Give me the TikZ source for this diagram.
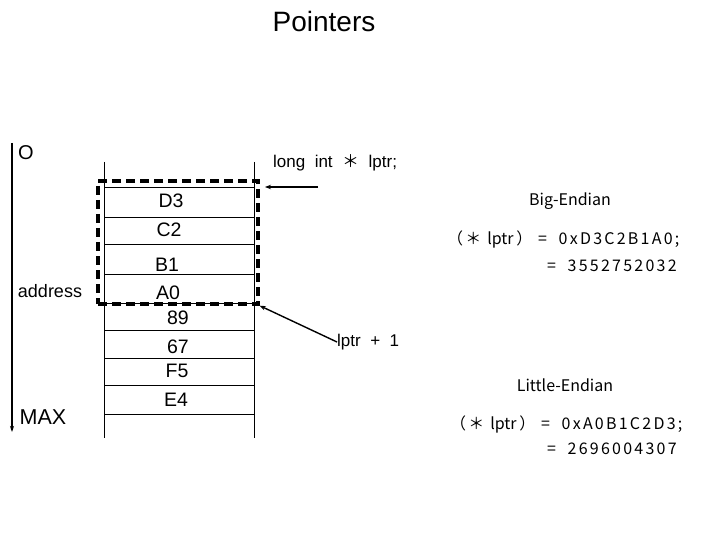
\documentclass[tikz,border=0pt]{standalone}
\usepackage{fontspec}
\setmainfont{Liberation Sans}
\newfontfamily\cjk{Noto Sans CJK KR}
\newfontfamily\kfont[LetterSpace=14]{Noto Sans CJK KR}
\usetikzlibrary{arrows.meta}
\begin{document}
\begin{tikzpicture}[x=1pt,y=-1pt,
  lbl/.style={inner sep=0pt, font=\fontsize{18}{20}\selectfont},
  clbl/.style={inner sep=0pt, font=\fontsize{19.5}{21}\selectfont},
  klbl/.style={inner sep=0pt, font=\kfont\fontsize{16}{18}\selectfont},
  elbl/.style={inner sep=0pt, font=\cjk\fontsize{16}{18}\selectfont},
  cellline/.style={line width=0.8pt},
  ptr/.style={line width=1.4pt, -{Stealth[length=6pt,width=4.5pt]}},
  selbox/.style={draw, dash pattern=on 9pt off 5pt, line width=3.4pt, inner sep=0pt}]
\useasboundingbox[fill=white] (0,0) rectangle (720,540);
% title
\node[inner sep=0pt, font=\fontsize{28}{32}\selectfont] (title) at (324,21) {Pointers};
% address axis
\coordinate (top) at (12,143);
\coordinate (bot) at (12,432);
\draw[line width=1.6pt, -{Stealth[length=6pt,width=4pt]}] (top) -- (bot);
\node[inner sep=0pt, font=\fontsize{20}{22}\selectfont] (zero) at (26,153) {O};
\node[lbl] (addr) at (50,291) {address};
\node[inner sep=0pt, font=\fontsize{21.5}{23}\selectfont] (max) at (43,417) {MAX};
% memory column
\draw[cellline] (104,162) -- (104,438);
\draw[cellline] (254,162) -- (254,438);
\foreach \y in {187,217,244,274,303,330,358,385,414}
  \draw[cellline] (104,\y) -- (254,\y);
\node[clbl] (d3) at (171,201) {D3};
\node[clbl] (c2) at (169,230) {C2};
\node[clbl] (b1) at (167,265) {B1};
\node[clbl] (a0) at (168,293) {A0};
\node[clbl] (c89) at (178,318) {89};
\node[clbl] (c67) at (178,347) {67};
\node[clbl] (f5) at (177,371) {F5};
\node[clbl] (e4) at (176,400) {E4};
% selection box
\node[selbox, minimum width=160pt, minimum height=123pt] (sel) at (178,242.5) {};
% texts
\node[inner sep=0pt, anchor=west, font=\fontsize{17}{19}\selectfont] (decl) at (273,163) {long\ \ int\ \ {\cjk ＊}\ \ lptr;};
\node[inner sep=0pt, anchor=west, font=\fontsize{17}{19}\selectfont] (inc) at (337,342) {lptr\ \ +\ \ 1};
\node[elbl] (big) at (570,201) {Big-Endian};
\node[klbl, anchor=west] (bige) at (447,239) {（＊\ {\cjk lptr}\,）\ =\ \ 0xD3C2B1A0;};
\node[klbl, anchor=west] (bigv) at (547,266) {=\ \ 3552752032};
\node[elbl] (little) at (565,385) {Little-Endian};
\node[klbl, anchor=west] (lite) at (450,424) {（＊\ {\cjk lptr}\,）\ =\ \ 0xA0B1C2D3;};
\node[klbl, anchor=west] (litv) at (547,449) {=\ \ 2696004307};
% pointers
\coordinate (p1tail) at (318,187);
\coordinate (p1head) at (265,187);
\draw[ptr] (p1tail) -- (p1head);
\draw[ptr] (inc.west) -- (sel.south east);
\end{tikzpicture}
\end{document}
